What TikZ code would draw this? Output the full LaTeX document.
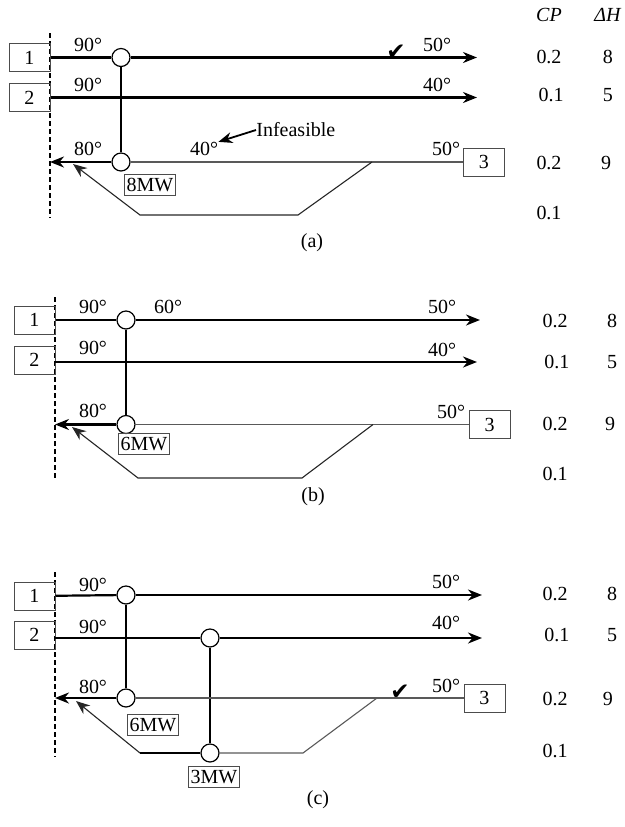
\documentclass[tikz,border=0pt]{standalone}
\usepackage{fontspec}
\setmainfont{Liberation Serif}
\newfontfamily\tickfont{DejaVu Sans}
\usetikzlibrary{arrows.meta}

\begin{document}
\begin{tikzpicture}[
    x=0.5pt, y=-0.5pt,
    font=\fontsize{10}{12}\selectfont,
    >={Stealth[length=7pt,width=5.5pt]},
    stream/.style={
        rectangle,
        draw=black!70,
        line width=0.5pt,
        minimum width=20.5pt,
        minimum height=14pt,
        inner sep=0pt
    },
    exch/.style={circle, draw=black, line width=0.6pt, fill=white, minimum size=9pt, inner sep=0pt},
    duty/.style={rectangle, draw=black!70, line width=0.5pt, inner sep=1pt, minimum height=10.5pt},
    hot/.style={line width=1.1pt},
    cold/.style={draw=black!65, line width=0.55pt},
    branch/.style={draw=black!85, line width=0.55pt},
    pinch/.style={line width=0.7pt, dash pattern=on 2.5pt off 1.5pt},
    txt/.style={inner sep=0pt},
    tick/.style={inner sep=0pt, font=\tickfont\fontsize{11.5}{12}\selectfont}
]
\useasboundingbox (0,0) rectangle (625,827);

% ---------- (a) ----------
\draw[pinch] (50,33) -- (50,218);
\node[stream] (s1a) at (29.5,57.5) {1};
\node[stream] (s2a) at (29.5,97.5) {2};
\node[stream] (s3a) at (484,162) {3};
\node[exch] (h1a) at (121,57.5) {};
\node[exch] (c1a) at (121,162) {};
\coordinate (e1a) at (477,57.5);
\coordinate (e2a) at (477,97.5);
\coordinate (e3a) at (50,162);
\coordinate (spa) at (372,162);
\coordinate (b1a) at (298,215);
\coordinate (b2a) at (140,215);
\coordinate (b3a) at (73,164);

\draw[hot] (s1a) -- (h1a);
\draw[hot,->] (h1a) -- (e1a);
\draw[hot,->] (s2a) -- (e2a);
\draw[hot] (h1a) -- (c1a);
\draw[cold] (s3a) -- (c1a);
\draw[hot,->] (c1a) -- (e3a);
\draw[branch,->] (spa) -- (b1a) -- (b2a) -- (b3a);

\node[txt] at (88,45) {90°};
\node[txt] at (88,85) {90°};
\node[txt] at (88,149) {80°};
\node[txt] (t40a) at (204,149) {40°};
\node[txt, anchor=west] (infa) at (256,130) {Infeasible};
\draw[line width=0.9pt,->] (infa.west) -- (t40a.north east);
\node[txt] at (437,45) {50°};
\node[txt] at (437,85) {40°};
\node[txt] at (446,149) {50°};
\node[tick] at (396,52) {✔};
\node[duty] (qa) at (150,185) {8MW};

\node[txt] at (549,15) {\textit{CP}};
\node[txt] at (608,15) {\textit{ΔH}};
\node[txt] at (549,57) {0.2};
\node[txt] at (608,57) {8};
\node[txt] at (551,95) {0.1};
\node[txt] at (608,95) {5};
\node[txt] at (549,163) {0.2};
\node[txt] at (606,163) {9};
\node[txt] at (549,213) {0.1};
\node[txt] at (312,243) {(a)};

% ---------- (b) ----------
\draw[pinch] (55,297) -- (55,480);
\node[stream] (s1b) at (34.5,320) {1};
\node[stream] (s2b) at (34.5,360) {2};
\node[stream] (s3b) at (489.5,424.5) {3};
\node[exch] (h1b) at (126,320) {};
\node[exch] (c1b) at (126,424.5) {};
\coordinate (e1b) at (480,320);
\coordinate (e2b) at (477,362);
\coordinate (e3b) at (55,424.5);
\coordinate (spb) at (373,424.5);
\coordinate (b1b) at (302,478);
\coordinate (b2b) at (138,478);
\coordinate (b3b) at (72,427);

\draw[hot] (s1b) -- (h1b);
\draw[hot,->] (h1b) -- (e1b);
\draw[hot,->] (55,362) -- (e2b);
\draw[hot] (h1b) -- (c1b);
\draw[cold] (s3b) -- (c1b);
\draw[hot,->] (c1b) -- (e3b);
\draw[branch,->] (spb) -- (b1b) -- (b2b) -- (b3b);

\node[txt] at (93,307) {90°};
\node[txt] at (168,307) {60°};
\node[txt] at (93,348) {90°};
\node[txt] at (93,411) {80°};
\node[txt] at (442,307) {50°};
\node[txt] at (442,350) {40°};
\node[txt] at (451,412) {50°};
\node[duty] (qb) at (144,444) {6MW};

\node[txt] at (555,321) {0.2};
\node[txt] at (612,321) {8};
\node[txt] at (557,362) {0.1};
\node[txt] at (612,362) {5};
\node[txt] at (555,424) {0.2};
\node[txt] at (610,424) {9};
\node[txt] at (555,474) {0.1};
\node[txt] at (313,497) {(b)};

% ---------- (c) ----------
\draw[pinch] (55,572) -- (55,757);
\node[stream] (s1c) at (34.5,596) {1};
\node[stream] (s2c) at (34.5,635) {2};
\node[stream] (s3c) at (484.5,698) {3};
\node[exch] (h1c) at (126,595) {};
\node[exch] (c1c) at (126,698) {};
\node[exch] (h2c) at (210,638) {};
\node[exch] (c2c) at (210,753) {};
\coordinate (e1c) at (482,595);
\coordinate (e2c) at (482,638);
\coordinate (e3c) at (55,698);
\coordinate (spc) at (377,698);
\coordinate (b1c) at (303,753);
\coordinate (b2c) at (140,753);
\coordinate (b3c) at (76,701);

\draw[hot] (s1c) -- (h1c);
\draw[hot,->] (h1c) -- (e1c);
\draw[hot] (55,638) -- (h2c);
\draw[hot,->] (h2c) -- (e2c);
\draw[hot] (h1c) -- (c1c);
\draw[hot] (h2c) -- (c2c);
\draw[cold] (s3c) -- (c1c);
\draw[hot,->] (c1c) -- (e3c);
\draw[cold] (spc) -- (b1c) -- (c2c);
\draw[hot] (c2c) -- (b2c);
\draw[branch,->] (b2c) -- (b3c);

\node[txt] at (93,585) {90°};
\node[txt] at (93,627) {90°};
\node[txt] at (93,687) {80°};
\node[txt] at (446,582) {50°};
\node[txt] at (446,623) {40°};
\node[txt] at (446,686) {50°};
\node[tick] at (400,692) {✔};
\node[duty] (qc) at (153,725) {6MW};
\node[duty] (rc) at (214,777) {3MW};

\node[txt] at (555,594) {0.2};
\node[txt] at (612,594) {8};
\node[txt] at (557,635) {0.1};
\node[txt] at (612,635) {5};
\node[txt] at (555,699) {0.2};
\node[txt] at (608,699) {9};
\node[txt] at (555,751) {0.1};
\node[txt] at (318,800) {(c)};

\end{tikzpicture}
\end{document}
